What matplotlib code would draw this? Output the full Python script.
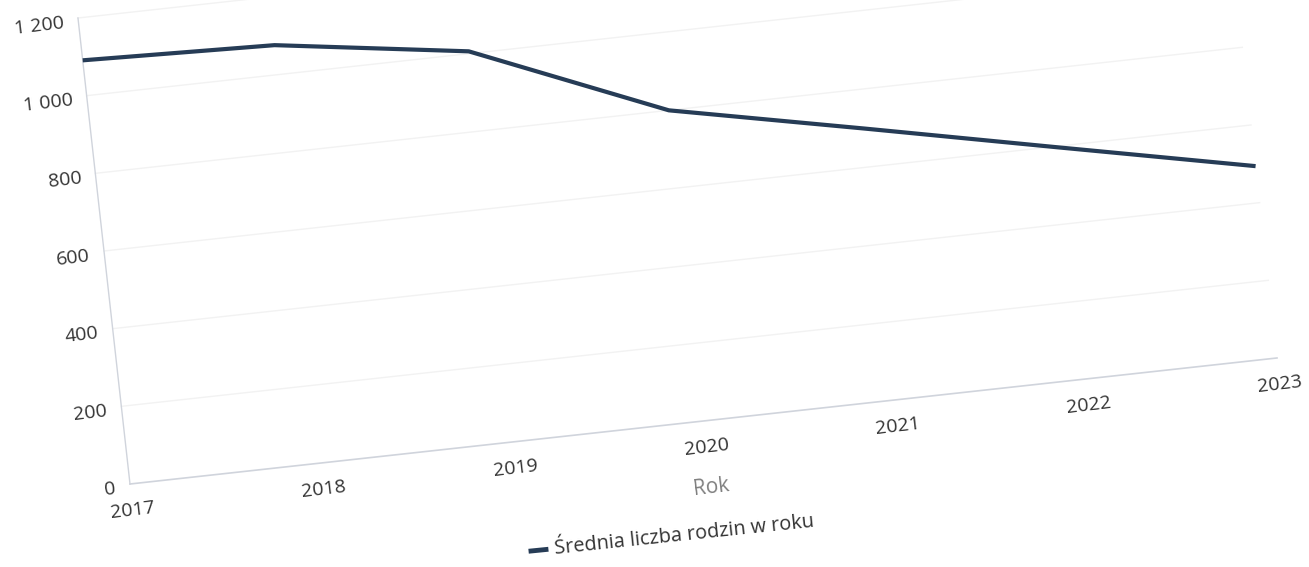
import matplotlib
matplotlib.use("Agg")
import matplotlib.pyplot as plt
import matplotlib.transforms as mtransforms

plt.rcParams['font.family'] = ['Open Sans', 'DejaVu Sans']

# ---- data ----
years = ['2017', '2018', '2019', '2020', '2021', '2022', '2023']
values = [1091, 1076, 1006, 800, 699, 596, 494]
y_ticks = [0, 200, 400, 600, 800, 1000, 1200]
y_tick_labels = ['0', '200', '400', '600', '800', '1 000', '1 200']
x_title = 'Rok'
series_name = 'Średnia liczba rodzin w roku'

# ---- style ----
W, H, DPI = 1309, 567, 100
line_color = '#263c56'
grid_color = '#f2f2f2'
axis_color = '#d0d4dc'
text_color = '#333333'

fig = plt.figure(figsize=(W / DPI, H / DPI), dpi=DPI)
fig.patch.set_facecolor('white')

ox, oy = 130, 83            # origin in display pixels
aw, ah = 1147, 466          # unskewed plot size in pixels
ax = fig.add_axes([ox / W, oy / H, aw / W, ah / H])
ax.set_xlim(0, len(years) - 1)
ax.set_ylim(0, 1200)
ax.axis('off')

# skew of the photographed screen
skew = (mtransforms.Affine2D().translate(-ox, -oy)
        .skew_deg(-6.37, 6.27).translate(ox, oy))
T = ax.transData + skew
rot = 6.8

xs = list(range(len(years)))

# gridlines
for t in y_ticks[1:]:
    ax.plot([xs[0], xs[-1]], [t, t], color=grid_color, lw=1.0,
            transform=T, clip_on=False, zorder=1)
# axis lines
ax.plot([xs[0], xs[-1]], [0, 0], color=axis_color, lw=1.2,
        transform=T, clip_on=False, zorder=2)
ax.plot([0, 0], [0, y_ticks[-1]], color=axis_color, lw=1.0,
        transform=T, clip_on=False, zorder=2)

# series
ax.plot(xs, values, color=line_color, lw=3.0, solid_joinstyle='round',
        solid_capstyle='butt', transform=T, clip_on=False, zorder=3)

# y tick labels
for t, lab in zip(y_ticks, y_tick_labels):
    ax.text(-0.075, t - 8, lab, transform=T, ha='right', va='center',
            rotation=rot, rotation_mode='anchor', fontsize=14,
            color=text_color, clip_on=False)

# x tick labels
for x, lab in zip(xs, years):
    ax.text(x, -67, lab, transform=T, ha='center', va='center',
            rotation=rot, rotation_mode='anchor', fontsize=14,
            color=text_color, clip_on=False)

# x axis title
ax.text(3, -172, x_title, transform=T, ha='center', va='center',
        rotation=rot, rotation_mode='anchor', fontsize=15,
        color='#808080', clip_on=False)

# legend
fig.add_artist(plt.Line2D([531 / W, 546 / W], [1 - 551 / H, 1 - 549.5 / H],
                          color=line_color, lw=3.5, transform=fig.transFigure))
fig.text(555 / W, 1 - 554 / H, series_name, ha='left', va='baseline',
         rotation=6.0, rotation_mode='anchor', fontsize=14.3,
         color=text_color)

fig.savefig('out.png', dpi=DPI, facecolor='white')
